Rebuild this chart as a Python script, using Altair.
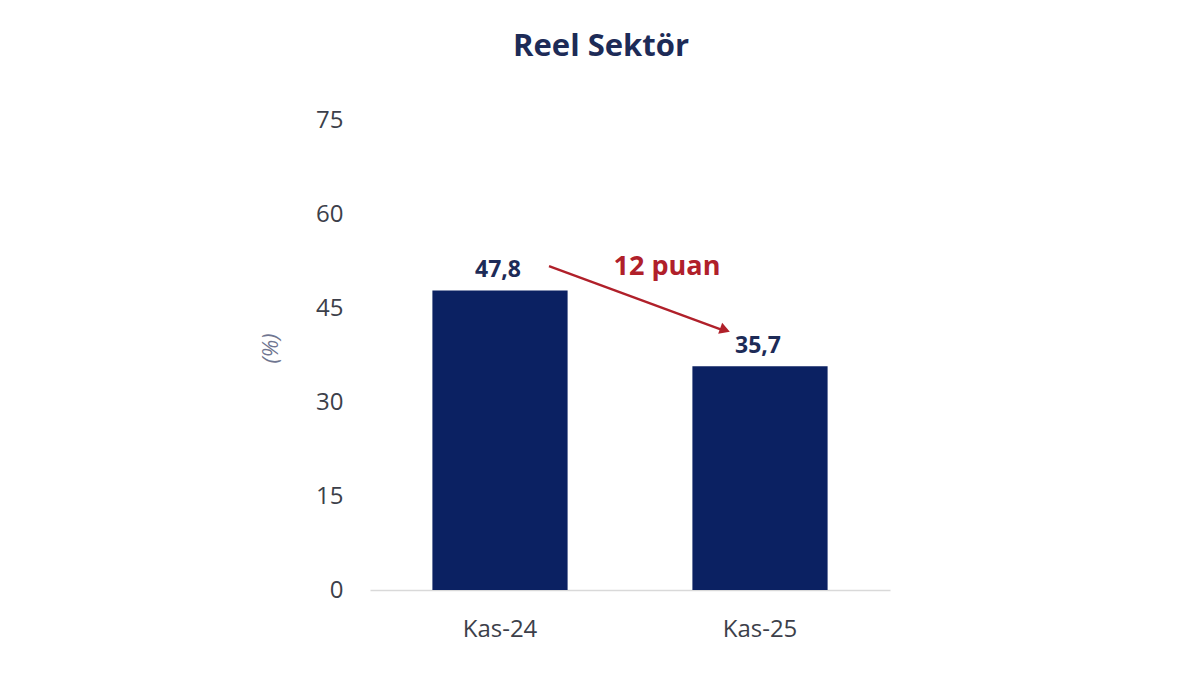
import altair as alt
import pandas as pd

categories = ["Kas-24", "Kas-25"]
values = [47.8, 35.7]
value_labels = ["47,8", "35,7"]
y_ticks = [0, 15, 30, 45, 60, 75]

arrow_from = "Kas-24"
arrow_to = "Kas-25"
arrow_y_start = 51.7
arrow_y_end = 41.5
arrow_text = "12 puan"
arrow_text_y = 51.6

NAVY = "#0b2162"
TEXT_NAVY = "#1d2b57"
RED = "#b0202a"
FONT = "Open Sans"

bars_df = pd.DataFrame({"cat": categories, "val": values, "lab": value_labels})
arrow_df = pd.DataFrame({
    "x1": [arrow_from], "x2": [arrow_to],
    "y1": [arrow_y_start], "y2": [arrow_y_end],
    "txt": [arrow_text], "ty": [arrow_text_y],
})

x_enc = alt.X(
    "cat:N", sort=categories,
    scale=alt.Scale(paddingInner=0.48, paddingOuter=0.24),
    axis=alt.Axis(title=None, labelAngle=0, ticks=False, labelPadding=27,
                  labelFontSize=24, labelColor="#3c3f4a", labelFont=FONT,
                  domainColor="#d9d9d9", domainWidth=1.5),
)
y_scale = alt.Scale(domain=[0, 75])

base = alt.Chart(bars_df)

bars = base.mark_bar(color=NAVY).encode(
    x=x_enc,
    y=alt.Y("val:Q", scale=y_scale,
            axis=alt.Axis(values=y_ticks, title="(%)", grid=False, domain=False,
                          ticks=False, labelPadding=27, labelFontSize=24,
                          labelColor="#3c3f4a", labelFont=FONT,
                          titleFont=FONT, titleFontSize=22, titleFontStyle="italic",
                          titleFontWeight="normal", titleColor="#6f7590",
                          titleX=-88, titleY=228)),
)

labels = base.mark_text(font=FONT, fontSize=23, fontWeight="bold", color=TEXT_NAVY,
                        baseline="alphabetic", dy=-13, dx=-2).encode(
    x=alt.X("cat:N", sort=categories),
    y=alt.Y("val:Q", scale=y_scale),
    text="lab:N",
)

arr = alt.Chart(arrow_df)

line = arr.mark_rule(color=RED, strokeWidth=2.4, xOffset=49, x2Offset=-38).encode(
    x=alt.X("x1:N", sort=categories),
    x2="x2:N",
    y=alt.Y("y1:Q", scale=y_scale),
    y2="y2:Q",
)

head = arr.mark_point(shape="triangle-right", filled=True, color=RED, opacity=1,
                      size=140, angle=19.7, xOffset=-35).encode(
    x=alt.X("x2:N", sort=categories),
    y=alt.Y("y2:Q", scale=y_scale),
)

txt = arr.mark_text(font=FONT, fontSize=27, fontWeight="bold", color=RED,
                    dx=-93).encode(
    x=alt.X("x2:N", sort=categories),
    y=alt.Y("ty:Q", scale=y_scale),
    text="txt:N",
)

chart = alt.layer(bars, labels, line, head, txt).properties(
    width=520, height=470,
    title=alt.TitleParams("Reel Sektör", font=FONT, fontSize=31, fontWeight="bold",
                          color=TEXT_NAVY, anchor="middle", dx=-29, offset=45),
    autosize=alt.AutoSizeParams(type="none"),
    padding={"left": 362, "top": 112, "right": 300, "bottom": 60},
    background="white",
).configure_view(strokeWidth=0)

chart.save("out.html", embed_options={"renderer": "svg", "actions": False})
